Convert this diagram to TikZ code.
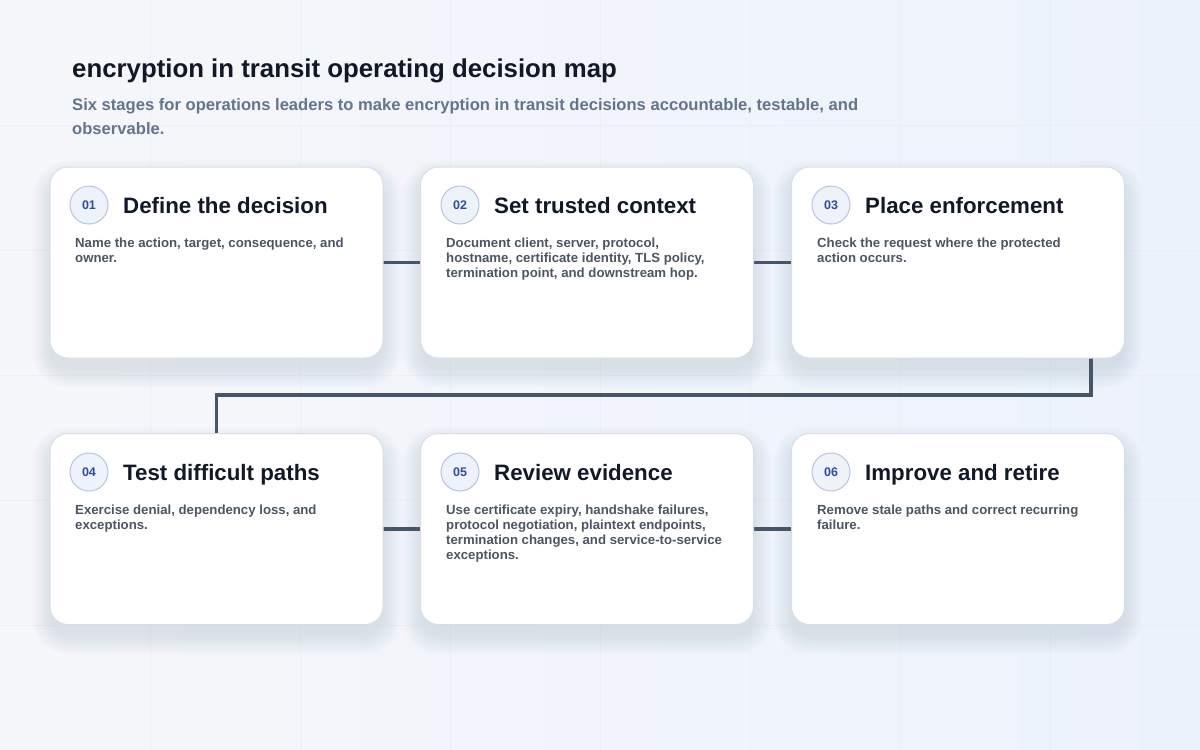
\documentclass[tikz,border=0pt]{standalone}
\usepackage{fontspec}
\setmainfont{Liberation Sans}

\definecolor{bgleft}{HTML}{F6F7FA}
\definecolor{bgright}{HTML}{ECF2FC}
\definecolor{gridgray}{HTML}{E4E8EF}
\definecolor{ink}{HTML}{111827}
\definecolor{subgray}{HTML}{64748B}
\definecolor{bodygray}{HTML}{4B5563}
\definecolor{cardline}{HTML}{D8DEE8}
\definecolor{badgefill}{HTML}{EEF2FB}
\definecolor{badgeline}{HTML}{B7C4DC}
\definecolor{badgeink}{HTML}{2D4E9C}
\definecolor{linkgray}{HTML}{475569}
\definecolor{shadetint}{HTML}{7D8DAA}

% soft shadow under a card centred at (#1,#2)
\newcommand{\cardshade}[2]{%
  \foreach \s in {0,2,...,18}{%
    \pgfmathsetmacro{\rr}{18+\s}%
    \fill[shadetint, opacity=0.018, rounded corners=\rr pt]
      ({#1-166.5-\s},{#2-84-\s}) rectangle ({#1+166.5+\s},{#2+107+\s});
  }%
}

\begin{document}
\begin{tikzpicture}[x=1pt,y=-1pt,
  card/.style={draw=cardline, line width=1pt, fill=white, rounded corners=18pt,
    minimum width=333pt, minimum height=191pt, inner sep=0pt},
  badge/.style={circle, draw=badgeline, line width=1pt, fill=badgefill, minimum size=38pt,
    inner sep=0pt, text=badgeink, font=\bfseries\fontsize{12.5}{14}\selectfont},
  cardtitle/.style={anchor=base west, inner sep=0pt, text=ink, font=\bfseries\fontsize{22.3}{26}\selectfont},
  cardbody/.style={anchor=north west, inner sep=0pt, align=left, text=bodygray,
    font=\bfseries\fontsize{13.2}{15}\selectfont},
  link/.style={draw=linkgray, line width=3.5pt},
  gridline/.style={draw=gridgray, line width=0.8pt, opacity=0.45}]

\useasboundingbox (0,0) rectangle (1200,750);
\shade[left color=bgleft, right color=bgright] (0,0) rectangle (1200,750);
\foreach \gx in {150,300,...,1050} \draw[gridline] (\gx,0) -- (\gx,750);
\foreach \gy in {125,250,...,625} \draw[gridline] (0,\gy) -- (1200,\gy);

\node[anchor=base west, inner sep=0pt, text=ink, font=\bfseries\fontsize{25.8}{30}\selectfont](heading) at (72,77) {encryption in transit operating decision map};
\node[anchor=base west, inner sep=0pt, align=left, text=subgray, font=\bfseries\fontsize{16.6}{24}\selectfont](subheading) at (72,134) {Six stages for operations leaders to make encryption in transit decisions accountable, testable, and\\observable.};

% shadows
\cardshade{216.5}{262.5}
\cardshade{587}{262.5}
\cardshade{958}{262.5}
\cardshade{216.5}{529}
\cardshade{587}{529}
\cardshade{958}{529}

% connectors
\coordinate (c1e) at (383,262.5);
\coordinate (c2w) at (421,262.5);
\coordinate (c2e) at (753,262.5);
\coordinate (c3w) at (792,262.5);
\coordinate (c4e) at (383,529);
\coordinate (c5w) at (421,529);
\coordinate (c5e) at (753,529);
\coordinate (c6w) at (792,529);
\draw[link] (c1e) -- (c2w);
\draw[link] (c2e) -- (c3w);
\draw[link] (c4e) -- (c5w);
\draw[link] (c5e) -- (c6w);
\draw[link] (1091,358) |- (216.5,395) -- (216.5,433);

% first row
\node[card](card1) at (216.5,262.5) {};
\node[badge](b1) at (89,205) {01};
\node[cardtitle](t1) at (123,213) {Define the decision};
\node[cardbody](d1) at (75,238) {Name the action, target, consequence, and\\owner.};

\node[card](card2) at (587,262.5) {};
\node[badge](b2) at (460,205) {02};
\node[cardtitle](t2) at (494,213) {Set trusted context};
\node[cardbody](d2) at (446,238) {Document client, server, protocol,\\hostname, certificate identity, TLS policy,\\termination point, and downstream hop.};

\node[card](card3) at (958,262.5) {};
\node[badge](b3) at (831,205) {03};
\node[cardtitle](t3) at (865,213) {Place enforcement};
\node[cardbody](d3) at (817,238) {Check the request where the protected\\action occurs.};

% second row
\node[card](card4) at (216.5,529) {};
\node[badge](b4) at (89,472) {04};
\node[cardtitle](t4) at (123,480) {Test difficult paths};
\node[cardbody](d4) at (75,505) {Exercise denial, dependency loss, and\\exceptions.};

\node[card](card5) at (587,529) {};
\node[badge](b5) at (460,472) {05};
\node[cardtitle](t5) at (494,480) {Review evidence};
\node[cardbody](d5) at (446,505) {Use certificate expiry, handshake failures,\\protocol negotiation, plaintext endpoints,\\termination changes, and service-to-service\\exceptions.};

\node[card](card6) at (958,529) {};
\node[badge](b6) at (831,472) {06};
\node[cardtitle](t6) at (865,480) {Improve and retire};
\node[cardbody](d6) at (817,505) {Remove stale paths and correct recurring\\failure.};
\end{tikzpicture}
\end{document}
